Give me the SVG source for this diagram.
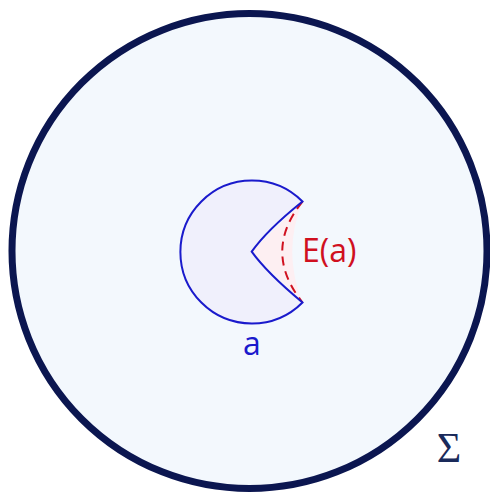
<svg xmlns="http://www.w3.org/2000/svg" width="490" height="494" viewBox="0 0 490 494">
<style>
.lbl{font-family:"Open Sans","Noto Sans",sans-serif;font-size:32px}
</style>
<rect width="490" height="494" fill="#ffffff"/>
<g id="sigma">
<circle cx="249.5" cy="251" r="237.5" fill="#f3f8fd" stroke="#0b1650" stroke-width="7"/>
<text x="449" y="462" text-anchor="middle" font-family="Liberation Serif,serif" font-size="42" fill="#1a2a5a">Σ</text>
</g>
<g id="Ea">
<path d="M302.5,201.5 Q282,251.5 302.5,302.5 L251.7,251.7 Z" fill="#fdeff2" stroke="none"/>
<path d="M302.5,201.5 Q262,251.5 302.5,302.5" fill="none" stroke="#d0101f" stroke-width="2" stroke-dasharray="9,6"/>
<text class="lbl" x="302" y="262" fill="#d0101f">E(a)</text>
</g>
<g id="a">
<path d="M302.5,201.5 A71.5,71.5 0 1 0 302.5,302.5 Q267,273 251.7,251.7 Q267,230 302.5,201.5 Z" fill="#f0f0fc" stroke="#1a1acc" stroke-width="2"/>
<text class="lbl" x="252" y="355" text-anchor="middle" fill="#1a1acc">a</text>
</g>
</svg>
